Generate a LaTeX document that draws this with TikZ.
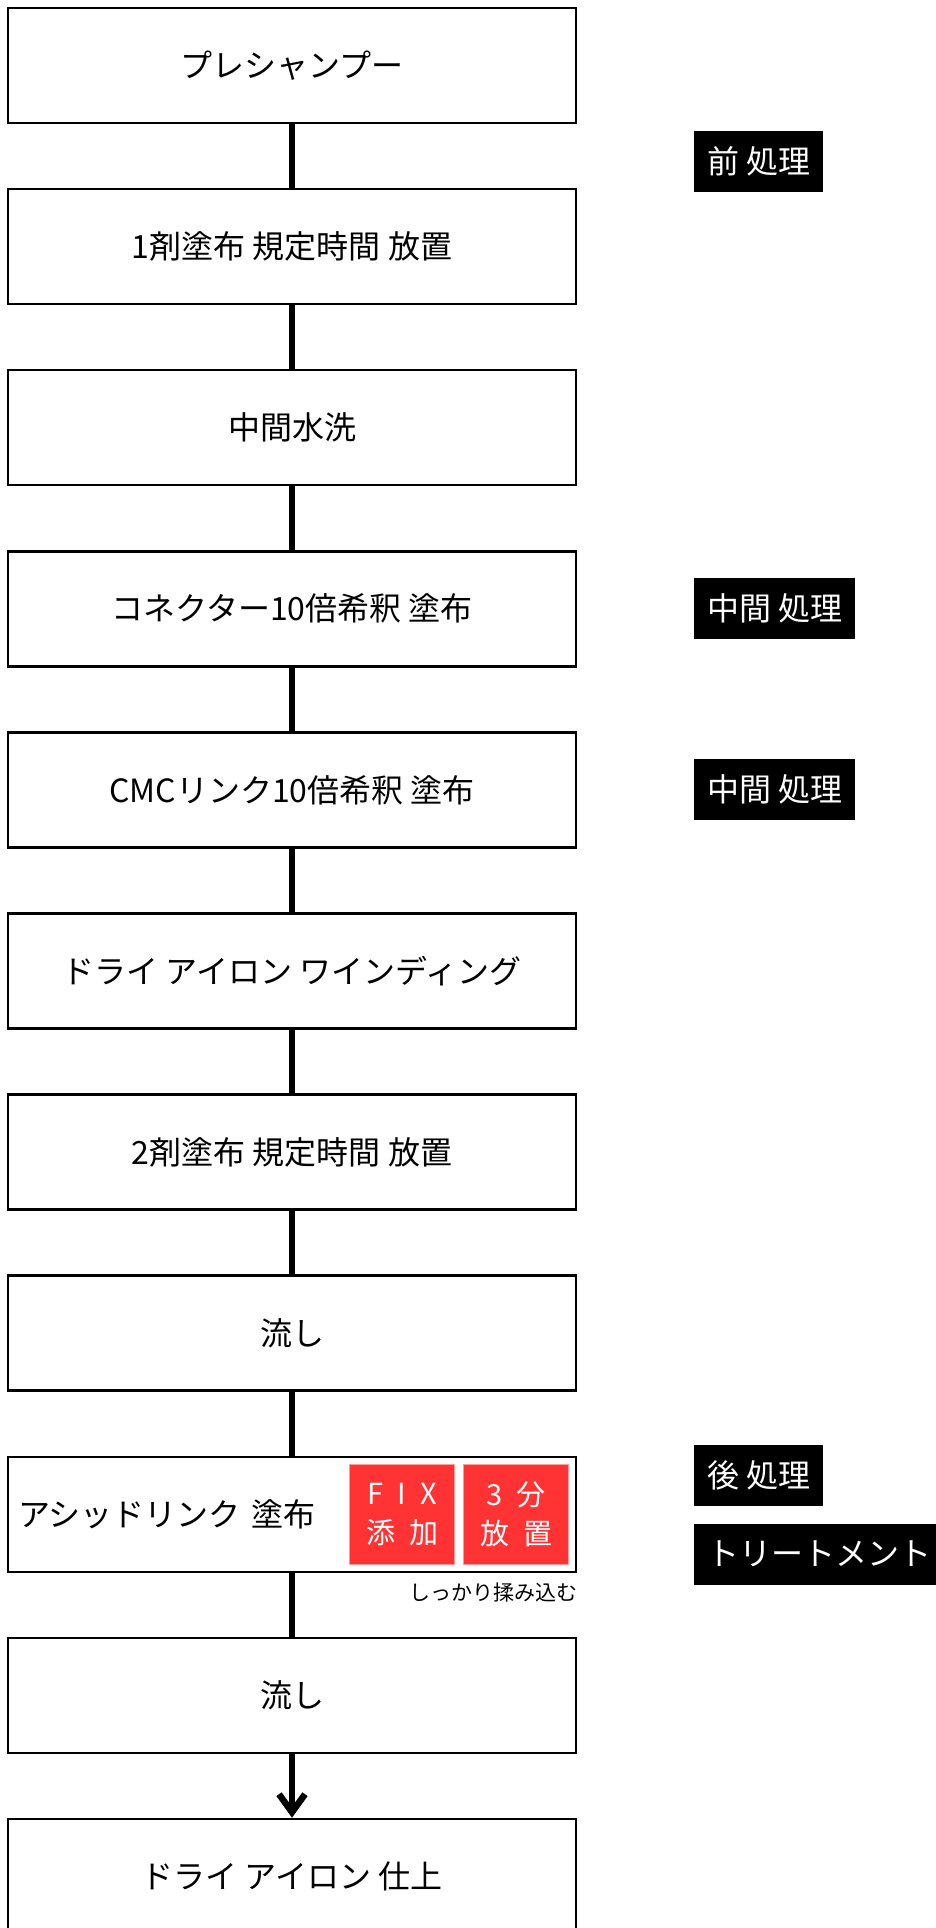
\documentclass[tikz,border=0pt]{standalone}
\usepackage{fontspec}
\setmainfont{Noto Sans CJK JP}
\usetikzlibrary{arrows.meta, positioning}
\definecolor{fixred}{HTML}{FF3333}
\definecolor{fixedge}{HTML}{FF9A9A}
\newcommand{\widespace}{\spaceskip=14pt plus 0pt minus 0pt\relax}

\begin{document}
\begin{tikzpicture}[x=1pt, y=1pt, node distance=181.1pt, on grid,
    stepbox/.style={draw, line width=2.5pt, minimum width=568pt, minimum height=115pt,
      inner xsep=10pt, font=\fontsize{32pt}{38pt}\selectfont},
    tag/.style={fill=black, text=white, anchor=west, minimum height=61pt, inner xsep=13pt,
      font=\fontsize{32pt}{38pt}\selectfont},
    fixbox/.style={fill=fixred, draw=fixedge, line width=1pt, text=white, minimum width=105pt,
      minimum height=100pt, align=center, inner sep=0pt,
      font=\fontsize{29pt}{39pt}\selectfont},
    link/.style={line width=6.5pt}]
        \clip (0,0) rectangle (936,-1928);
        \node[stepbox] (s0) at (292,-65.5) {プレシャンプー};
        \node[stepbox] (s1) [below=of s0] {1剤塗布 規定時間 放置};
        \node[stepbox] (s2) [below=of s1] {中間水洗};
        \node[stepbox] (s3) [below=of s2] {コネクター10倍希釈 塗布};
        \node[stepbox] (s4) [below=of s3] {CMCリンク10倍希釈 塗布};
        \node[stepbox] (s5) [below=of s4] {ドライ アイロン ワインディング};
        \node[stepbox] (s6) [below=of s5] {2剤塗布 規定時間 放置};
        \node[stepbox] (s7) [below=of s6] {流し};
        \node[stepbox, text width=548pt, align=left] (s8) [below=of s7] {アシッドリンク 塗布};
        \node[stepbox] (s9) [below=of s8] {流し};
        \node[stepbox] (s10) [below=of s9] {ドライ アイロン 仕上};
        \node[fixbox, anchor=east] (wait) at ([xshift=-8pt]s8.east) {\widespace 3 分\\\widespace 放 置};
        \node[fixbox, anchor=east] (fix) at ([xshift=-8pt]wait.west) {\widespace F I X\\\widespace 添 加};
        \node[anchor=east, inner sep=0pt, font=\fontsize{21pt}{25pt}\selectfont] (rub)
            at ([yshift=-19pt]s8.south east) {しっかり揉み込む};
        \node[tag] (pre) at (694,-161.5) {前 処理};
        \node[tag] (mid1) at (694,-608) {中間 処理};
        \node[tag] (mid2) at (694,-789) {中間 処理};
        \node[tag] (post) at (694,-1475) {後 処理};
        \node[tag] (trt) at (694,-1554) {トリートメント};
        \path[link]
        (s0) edge (s1)
        (s1) edge (s2)
        (s2) edge (s3)
        (s3) edge (s4)
        (s4) edge (s5)
        (s5) edge (s6)
        (s6) edge (s7)
        (s7) edge (s8)
        (s8) edge (s9)
        (s9) edge [-{Straight Barb[length=18pt, width=26pt]}] (s10)
        ;
    \end{tikzpicture}
\end{document}
